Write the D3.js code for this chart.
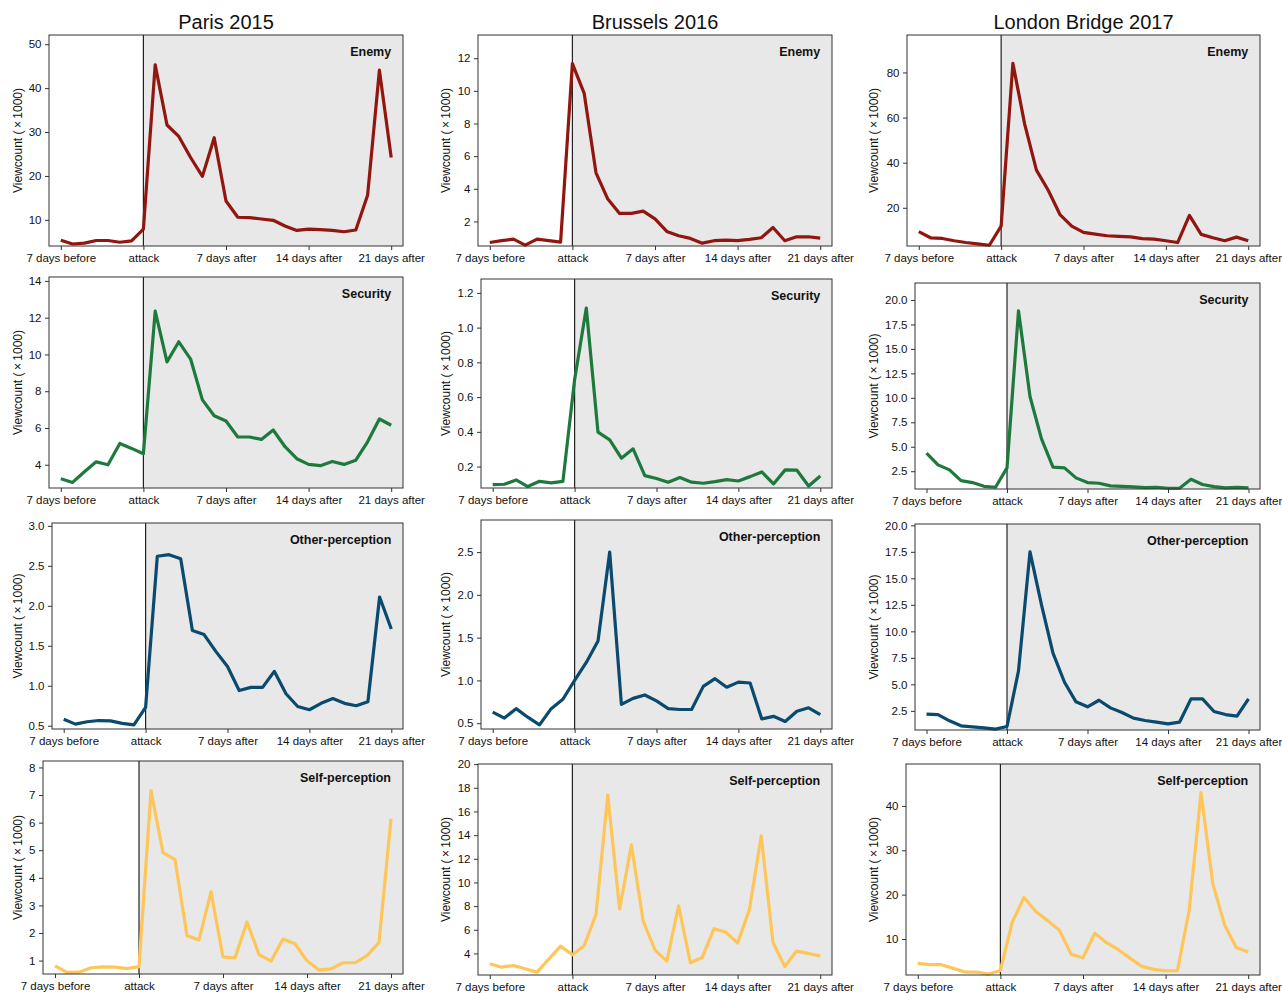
<!DOCTYPE html>
<html>
<head>
<meta charset="utf-8">
<script src="https://cdn.jsdelivr.net/npm/d3@7"></script>
<style>
  body { margin: 0; background: #fff; }
  svg { display: block; font-family: "Liberation Sans", Arial, sans-serif; }
</style>
</head>
<body>
<div id="chart"></div>
<script>
'use strict';

// x values: days relative to the attack
var days = [-7, -6, -5, -4, -3, -2, -1, 0, 1, 2, 3, 4, 5, 6, 7, 8, 9, 10, 11, 12, 13, 14, 15, 16, 17, 18, 19, 20, 21];
var xTicks = [-7, 0, 7, 14, 21];
var xTickLabels = ["7 days before", "attack", "7 days after", "14 days after", "21 days after"];

var attacks = ["Paris 2015", "Brussels 2016", "London Bridge 2017"];
var categories = ["Enemy", "Security", "Other-perception", "Self-perception"];

// Viewcount (x1000), one value per day
var parisEnemy = [5.35, 4.5, 4.7, 5.3, 5.3, 4.9, 5.2, 7.9, 45.3, 31.6, 29.0, 24.2, 19.9, 28.7, 14.3, 10.6, 10.5, 10.2, 9.9, 8.6, 7.6, 7.9, 7.8, 7.6, 7.3, 7.7, 15.6, 44.1, 24.2];
var brusselsEnemy = [0.71, 0.82, 0.92, 0.55, 0.92, 0.82, 0.73, 11.67, 9.84, 4.98, 3.37, 2.49, 2.49, 2.63, 2.16, 1.39, 1.12, 0.96, 0.67, 0.82, 0.86, 0.82, 0.90, 1.0, 1.63, 0.82, 1.06, 1.06, 0.98];
var londonEnemy = [9.4, 6.7, 6.4, 5.4, 4.6, 4.0, 3.4, 11.9, 84.0, 57.1, 36.7, 27.8, 17.0, 11.9, 9.1, 8.3, 7.6, 7.3, 7.1, 6.3, 6.1, 5.4, 4.6, 16.6, 8.2, 6.7, 5.4, 7.0, 5.4];

var parisSecurity = [3.24, 3.04, 3.62, 4.16, 4.0, 5.16, 4.89, 4.6, 12.36, 9.6, 10.69, 9.75, 7.53, 6.67, 6.38, 5.51, 5.51, 5.38, 5.89, 4.98, 4.33, 4.02, 3.95, 4.18, 4.02, 4.25, 5.25, 6.49, 6.15];
var brusselsSecurity = [0.096, 0.098, 0.123, 0.085, 0.115, 0.106, 0.115, 0.70, 1.113, 0.398, 0.354, 0.248, 0.302, 0.148, 0.131, 0.11, 0.137, 0.11, 0.104, 0.113, 0.125, 0.117, 0.142, 0.169, 0.1, 0.181, 0.179, 0.088, 0.146];
var londonSecurity = [4.34, 3.15, 2.64, 1.54, 1.34, 0.96, 0.86, 2.84, 18.9, 10.14, 5.81, 2.91, 2.84, 1.82, 1.34, 1.27, 1.0, 0.96, 0.9, 0.83, 0.86, 0.76, 0.76, 1.68, 1.14, 0.93, 0.79, 0.86, 0.79];

var parisOther = [0.58, 0.52, 0.55, 0.565, 0.56, 0.53, 0.51, 0.73, 2.62, 2.64, 2.59, 1.69, 1.64, 1.43, 1.24, 0.94, 0.98, 0.98, 1.18, 0.9, 0.74, 0.7, 0.78, 0.84, 0.78, 0.75, 0.8, 2.11, 1.71];
var brusselsOther = [0.63, 0.56, 0.67, 0.57, 0.48, 0.67, 0.78, 1.0, 1.21, 1.46, 2.5, 0.72, 0.79, 0.83, 0.76, 0.67, 0.66, 0.66, 0.93, 1.02, 0.92, 0.98, 0.97, 0.55, 0.58, 0.52, 0.64, 0.68, 0.6];
var londonOther = [2.19, 2.15, 1.56, 1.09, 0.99, 0.9, 0.77, 1.02, 6.27, 17.5, 12.5, 7.94, 5.2, 3.35, 2.88, 3.5, 2.78, 2.34, 1.81, 1.59, 1.43, 1.27, 1.43, 3.63, 3.63, 2.44, 2.15, 2.0, 3.63];

var parisSelf = [0.81, 0.57, 0.58, 0.74, 0.77, 0.76, 0.71, 0.78, 7.16, 4.91, 4.66, 1.9, 1.75, 3.49, 1.13, 1.1, 2.4, 1.22, 0.98, 1.78, 1.61, 0.99, 0.66, 0.7, 0.92, 0.92, 1.18, 1.65, 6.14];
var brusselsSelf = [3.13, 2.84, 2.98, 2.7, 2.42, 3.52, 4.62, 3.89, 4.65, 7.3, 17.4, 7.75, 13.17, 6.74, 4.28, 3.35, 8.03, 3.21, 3.66, 6.09, 5.8, 4.87, 7.72, 13.93, 4.93, 2.9, 4.2, 4.0, 3.77];
var londonSelf = [4.5, 4.2, 4.2, 3.37, 2.54, 2.54, 2.09, 2.9, 13.77, 19.34, 16.18, 14.14, 11.96, 6.53, 5.78, 11.28, 9.17, 7.59, 5.63, 3.82, 3.14, 2.84, 2.84, 16.48, 43.0, 22.5, 13.17, 8.04, 7.14];

// y tick values per panel (row = category, col = attack)
var yTicksEnemy = [[10, 20, 30, 40, 50], [2, 4, 6, 8, 10, 12], [20, 40, 60, 80]];
var yTicksSecurity = [[4, 6, 8, 10, 12, 14], [0.2, 0.4, 0.6, 0.8, 1.0, 1.2], [2.5, 5, 7.5, 10, 12.5, 15, 17.5, 20]];
var yTicksOther = [[0.5, 1, 1.5, 2, 2.5, 3], [0.5, 1, 1.5, 2, 2.5], [2.5, 5, 7.5, 10, 12.5, 15, 17.5, 20]];
var yTicksSelf = [[1, 2, 3, 4, 5, 6, 7, 8], [4, 6, 8, 10, 12, 14, 16, 18, 20], [10, 20, 30, 40]];

var series = [
  [parisEnemy, brusselsEnemy, londonEnemy],
  [parisSecurity, brusselsSecurity, londonSecurity],
  [parisOther, brusselsOther, londonOther],
  [parisSelf, brusselsSelf, londonSelf]
];
var yTicks = [yTicksEnemy, yTicksSecurity, yTicksOther, yTicksSelf];
var colors = ["#921610", "#1e7a3c", "#0a4a6e", "#fec659"];

// axes boxes [left, top, right, bottom]
var boxes = [
  [[49, 35, 403, 246], [478, 35, 832, 246], [907, 35, 1260, 246]],
  [[49, 277, 403, 488], [481, 279, 832, 488], [915, 283, 1260, 489]],
  [[52, 523, 403, 729], [481, 520, 832, 729], [915, 524, 1260, 730]],
  [[43, 761, 403, 974], [478, 764, 832, 975], [906, 764, 1260, 975]]
];
var yLabelX = [17.5, 446, 874];

var width = 1282, height = 993;
var svg = d3.select('#chart').append('svg')
  .attr('width', width)
  .attr('height', height);

function drawPanel(r, c) {
  var box = boxes[r][c];
  var values = series[r][c];
  var ticks = yTicks[r][c];
  var decimals = ticks.some(function(t) { return t % 1 !== 0; });

  var x = d3.scaleLinear().domain([-8, 22]).range([box[0], box[2]]);
  var y = d3.scaleLinear()
    .domain([d3.min(values) * 0.9, d3.max(values) * 1.15])
    .range([box[3], box[1]]);

  var g = svg.append('g').attr('class', 'panel');

  // after-attack shading
  g.append('rect')
    .attr('x', x(0))
    .attr('y', box[1])
    .attr('width', x(22) - x(0))
    .attr('height', box[3] - box[1])
    .attr('fill', '#e8e8e8');

  g.append('line')
    .attr('x1', x(0)).attr('x2', x(0))
    .attr('y1', box[1]).attr('y2', box[3])
    .attr('stroke', '#222')
    .attr('stroke-width', 1.2);

  var line = d3.line()
    .x(function(d, i) { return x(days[i]); })
    .y(function(d) { return y(d); });

  g.append('path')
    .datum(values)
    .attr('fill', 'none')
    .attr('stroke', colors[r])
    .attr('stroke-width', 3.2)
    .attr('stroke-linejoin', 'round')
    .attr('d', line);

  // frame
  g.append('rect')
    .attr('x', box[0]).attr('y', box[1])
    .attr('width', box[2] - box[0])
    .attr('height', box[3] - box[1])
    .attr('fill', 'none')
    .attr('stroke', '#333')
    .attr('stroke-width', 1);

  var xAxis = d3.axisBottom(x)
    .tickValues(xTicks)
    .tickFormat(function(d, i) { return xTickLabels[i]; })
    .tickSize(4)
    .tickPadding(4);

  var yAxis = d3.axisLeft(y)
    .tickValues(ticks)
    .tickFormat(decimals ? d3.format('.1f') : d3.format('d'))
    .tickSize(4)
    .tickPadding(3.5);

  var gx = g.append('g')
    .attr('transform', 'translate(0,' + box[3] + ')')
    .call(xAxis);
  var gy = g.append('g')
    .attr('transform', 'translate(' + box[0] + ',0)')
    .call(yAxis);

  [gx, gy].forEach(function(a) {
    a.select('.domain').remove();
    a.attr('font-size', 11.5).attr('font-family', null);
    a.selectAll('.tick line').attr('stroke', '#333');
    a.selectAll('.tick text').attr('fill', '#111');
  });

  g.append('text')
    .attr('transform', 'translate(' + yLabelX[c] + ',' + (box[1] + box[3]) / 2 + ') rotate(-90)')
    .attr('text-anchor', 'middle')
    .attr('dominant-baseline', 'central')
    .attr('font-size', 12)
    .attr('fill', '#111')
    .text('Viewcount (\u2009\u00d7\u20091000)');

  g.append('text')
    .attr('x', x(21))
    .attr('y', box[1] + 17)
    .attr('text-anchor', 'end')
    .attr('dominant-baseline', 'central')
    .attr('font-size', 12.5)
    .attr('font-weight', 'bold')
    .attr('fill', '#111')
    .text(categories[r]);
}

for (var r = 0; r < categories.length; r++) {
  for (var c = 0; c < attacks.length; c++) {
    drawPanel(r, c);
  }
}

svg.selectAll('text.title')
  .data(attacks)
  .enter()
  .append('text')
  .attr('class', 'title')
  .attr('x', function(d, i) { return (boxes[0][i][0] + boxes[0][i][2]) / 2; })
  .attr('y', 29)
  .attr('text-anchor', 'middle')
  .attr('font-size', 20)
  .attr('fill', '#111')
  .text(function(d) { return d; });
</script>
</body>
</html>
